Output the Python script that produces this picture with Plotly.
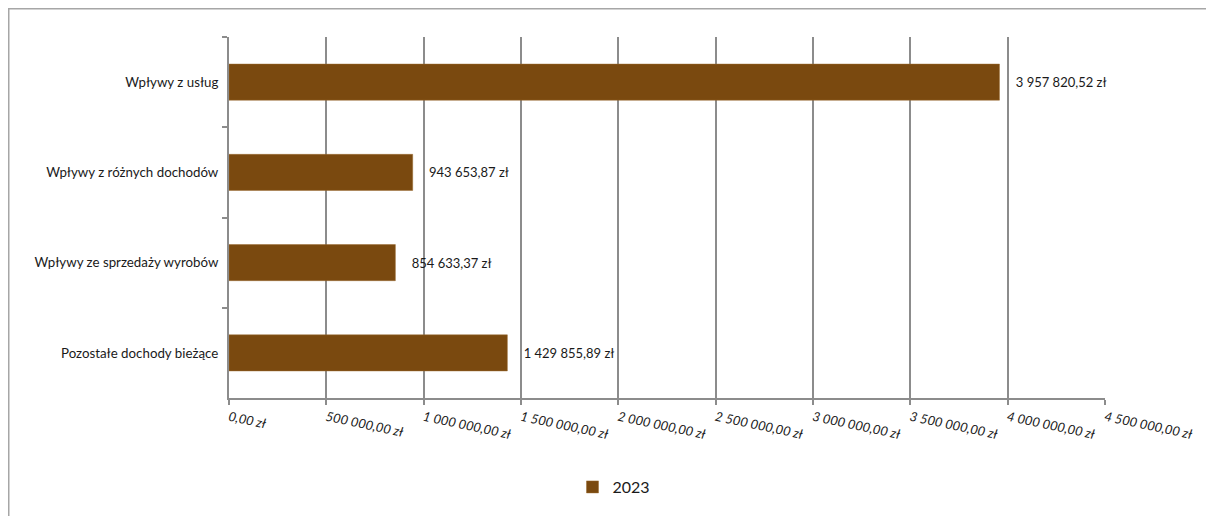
import plotly.graph_objects as go

categories = ["Wpływy z usług", "Wpływy z różnych dochodów", "Wpływy ze sprzedaży wyrobów", "Pozostałe dochody bieżące"]
values_2023 = [3957820.52, 943653.87, 854633.37, 1429855.89]
value_labels = ["3 957 820,52 zł", "943 653,87 zł", "854 633,37 zł", "1 429 855,89 zł"]
tick_values = [0, 500000, 1000000, 1500000, 2000000, 2500000, 3000000, 3500000, 4000000, 4500000]
tick_labels = ["0,00 zł", "500 000,00 zł", "1 000 000,00 zł", "1 500 000,00 zł", "2 000 000,00 zł",
               "2 500 000,00 zł", "3 000 000,00 zł", "3 500 000,00 zł", "4 000 000,00 zł", "4 500 000,00 zł"]
series_name = "2023"

# page body has an 8px margin in the browser
W, H = 1206, 508
ml, mr, mt, mb = 221, 109, 29, 118
pw, ph = W - ml - mr, H - mt - mb

FONT = "Lato, Open Sans, sans-serif"

fig = go.Figure()
fig.add_trace(go.Bar(
    y=categories, x=values_2023, orientation="h", name=series_name,
    marker=dict(color="#7a490f", line=dict(color="#9a6a30", width=0.5)),
    width=0.4,
    text=["    " + t for t in value_labels], textposition="outside",
    textfont=dict(family=FONT, size=13, color="#1a1a1a"),
    cliponaxis=False,
))

border_color = "#a6a6a6"
fig.update_layout(
    width=W, height=H,
    margin=dict(l=ml, r=mr, t=mt, b=mb),
    paper_bgcolor="white", plot_bgcolor="white",
    font=dict(family=FONT, size=13, color="#1a1a1a"),
    showlegend=True,
    legend=dict(orientation="h", x=(606 - ml) / pw, xanchor="center",
                y=(H - mb - 479) / ph, yanchor="middle",
                font=dict(size=16, color="#1a1a1a"), itemwidth=30),
    bargap=0.6,
    shapes=[dict(type="rect", xref="paper", yref="paper",
                 x0=(0.75 - ml) / pw, x1=1.5, y0=-1.0, y1=1 + (mt - 0.75) / ph,
                 line=dict(color=border_color, width=1.5), fillcolor="rgba(0,0,0,0)", layer="below")],
)
fig.update_xaxes(
    range=[0, 4500000], tickvals=tick_values, ticktext=tick_labels,
    tickangle=12, tickfont=dict(family=FONT, size=13, style="italic", color="#1a1a1a"),
    showgrid=True, gridcolor="#8c8c8c", gridwidth=1.5,
    showline=True, linecolor="#8c8c8c", linewidth=2,
    ticks="outside", ticklen=5, tickcolor="#8c8c8c", tickwidth=1.5,
    zeroline=False, fixedrange=True,
)
fig.update_yaxes(
    categoryorder="array", categoryarray=categories, autorange="reversed",
    showline=True, linecolor="#8c8c8c", linewidth=2,
    ticks="outside", ticklen=5, tickcolor="#8c8c8c", tickwidth=1.5, tickson="boundaries",
    showgrid=False, ticklabelstandoff=6,
    tickfont=dict(family=FONT, size=13.3, color="#1a1a1a"),
)

fig.write_html("out.html")
